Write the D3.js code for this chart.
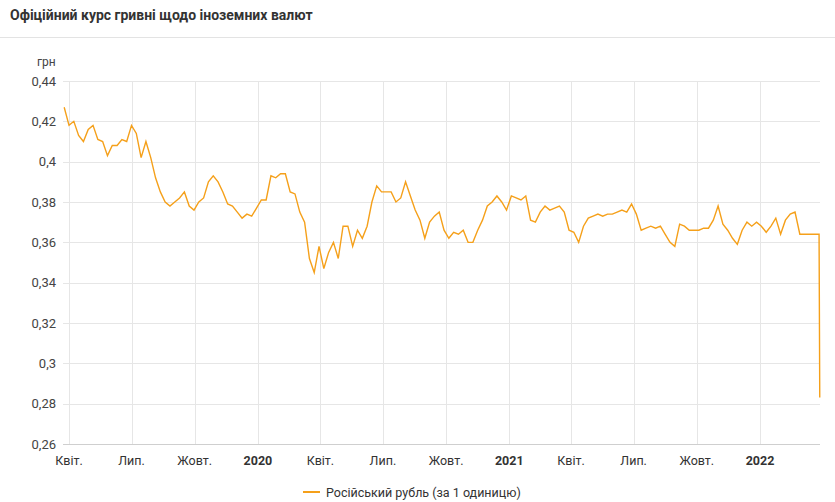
<!DOCTYPE html>
<html><head><meta charset="utf-8">
<script src="https://cdn.jsdelivr.net/npm/d3@7"></script>
<style>body{margin:0;background:#fff;font-family:Roboto,"Noto Sans",sans-serif;}</style>
</head><body><svg id="c" width="835" height="502"></svg>
<script>
const title = "Офіційний курс гривні щодо іноземних валют";
const seriesName = "Російський рубль (за 1 одиницю)";
const startDate = "2019-03-25";
const rubValues = [
0.427,0.418,0.42,0.413,0.41,0.416,0.418,0.411,0.41,0.403,0.408,0.408,0.411,0.41,0.418,0.414,0.402,0.41,0.402,0.392,
0.385,0.38,0.378,0.38,0.382,0.385,0.378,0.376,0.38,0.382,0.39,0.393,0.39,0.385,0.379,0.378,0.375,0.372,0.374,0.373,
0.377,0.381,0.381,0.393,0.392,0.394,0.394,0.385,0.384,0.375,0.37,0.352,0.345,0.358,0.347,0.355,0.36,0.352,0.368,0.368,
0.358,0.366,0.362,0.368,0.38,0.388,0.385,0.385,0.385,0.38,0.382,0.39,0.383,0.376,
0.371,0.362,0.37,0.373,0.375,0.366,0.362,0.365,0.364,0.366,0.36,0.36,0.366,0.371,0.378,0.38,0.383,0.38,0.376,0.383,
0.382,0.381,0.383,0.371,0.37,0.375,0.378,0.376,0.377,0.378,0.375,0.366,0.365,0.36,0.368,0.372,0.373,0.374,0.373,0.374,
0.374,0.375,0.376,0.375,0.379,0.374,0.366,0.367,0.368,0.367,0.368,0.364,0.36,0.358,0.369,0.368,0.366,0.366,0.366,0.367,
0.367,0.371,0.378,0.369,0.366,0.362,0.359,0.366,0.37,0.368,0.37,0.368,0.365,0.368,0.372,0.364,0.371,0.374,0.375,0.364,
0.364,0.364,0.364,0.364];
const lastValue = 0.283;
const yTicks = [0.26,0.28,0.30,0.32,0.34,0.36,0.38,0.40,0.42,0.44];
const xTickDates = ["2019-04-01","2019-07-01","2019-10-01","2020-01-01","2020-04-01","2020-07-01","2020-10-01","2021-01-01","2021-04-01","2021-07-01","2021-10-01","2022-01-01"];
const xTickLabels = ["Квіт.","Лип.","Жовт.","2020","Квіт.","Лип.","Жовт.","2021","Квіт.","Лип.","Жовт.","2022"];

const parse = d3.timeParse("%Y-%m-%d");
const d0 = parse(startDate);
const data = rubValues.map((v,i)=>({date:d3.timeDay.offset(d0,7*i),value:v}));
data.push({date:d3.timeDay.offset(data[data.length-1].date,1),value:lastValue});

const svg = d3.select("#c");
const pL=63,pR=820,pT=81,pB=444;
const x = d3.scaleTime().domain([parse("2019-04-01"),parse("2022-01-01")]).range([69,760]);
const y = d3.scaleLinear().domain([0.26,0.44]).range([pB,pT]);

svg.append("text").attr("x",10).attr("y",20).attr("font-size",14).attr("font-weight",700).attr("fill","#333").text(title);
svg.append("line").attr("x1",0).attr("x2",835).attr("y1",37.5).attr("y2",37.5).attr("stroke","#e3e3e3");

const fmt = v => d3.format(".2~f")(v).replace(".",",");
svg.append("g").selectAll("line").data(yTicks).join("line")
 .attr("x1",pL).attr("x2",pR).attr("y1",d=>Math.round(y(d))+0.5).attr("y2",d=>Math.round(y(d))+0.5)
 .attr("stroke",d=>d===0.26?"#cfcfcf":"#e6e6e6");
svg.append("g").selectAll("text").data(yTicks).join("text")
 .attr("x",56).attr("y",d=>y(d)+4.5).attr("text-anchor","end").attr("font-size",13).attr("fill","#444").text(fmt);
svg.append("text").attr("x",37).attr("y",66).attr("font-size",12).attr("fill","#444").text("грн");

const xt = xTickDates.map((d,i)=>({d:parse(d),l:xTickLabels[i]}));
svg.append("g").selectAll("line").data(xt).join("line")
 .attr("x1",d=>Math.round(x(d.d))+0.5).attr("x2",d=>Math.round(x(d.d))+0.5).attr("y1",pT).attr("y2",pB)
 .attr("stroke","#e6e6e6");
svg.append("g").selectAll("text").data(xt).join("text")
 .attr("x",d=>x(d.d)).attr("y",465).attr("text-anchor","middle").attr("font-size",12.5)
 .attr("font-weight",d=>/^\d/.test(d.l)?700:400).attr("fill","#333").text(d=>d.l);

const line = d3.line().x(d=>x(d.date)).y(d=>y(d.value)).curve(d3.curveLinear);
svg.append("path").datum(data).attr("d",line).attr("fill","none").attr("stroke","#f5a01a").attr("stroke-width",1.4);

svg.append("line").attr("x1",303).attr("x2",320).attr("y1",492).attr("y2",492).attr("stroke","#f5a01a").attr("stroke-width",2);
svg.append("text").attr("x",326).attr("y",497).attr("font-size",12.5).attr("fill","#333").text(seriesName);
</script></body></html>
